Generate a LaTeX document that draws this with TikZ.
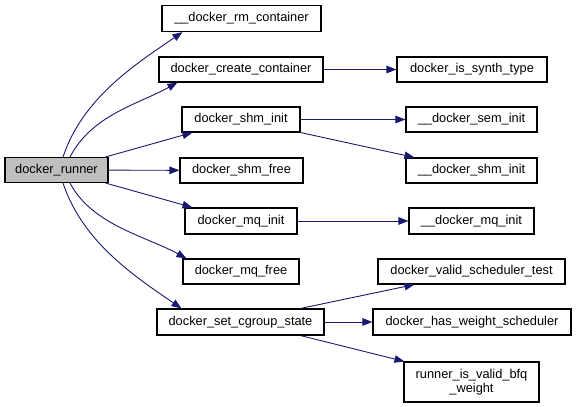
\documentclass[tikz,border=0pt]{standalone}
\usepackage{fontspec}
\setmainfont{Liberation Sans}
\usetikzlibrary{arrows.meta}
\definecolor{edgeblue}{HTML}{191970}
\begin{document}
\begin{tikzpicture}[x=1pt, y=-1pt,
		func/.style={draw=black, line width=1.1pt, fill=white, inner sep=0pt, font=\fontsize{12.8}{14}\selectfont},
		call/.style={->, >={Triangle[length=10pt, width=7.5pt]}, draw=edgeblue, line width=0.9pt}]
		\useasboundingbox (0,0) rectangle (576,407);
		% Nodes
		\node[func, fill=black!25, minimum width=103pt, minimum height=25pt] (runner) at (56.5,170) {docker\_runner};
		\node[func, minimum width=159pt, minimum height=26pt] (rmcontainer) at (241.5,18.5) {\_\_docker\_rm\_container};
		\node[func, minimum width=164pt, minimum height=25pt] (createcontainer) at (241,69.5) {docker\_create\_container};
		\node[func, minimum width=150pt, minimum height=25pt] (synthtype) at (472,69.5) {docker\_is\_synth\_type};
		\node[func, minimum width=118pt, minimum height=25pt] (shminit) at (241,119.5) {docker\_shm\_init};
		\node[func, minimum width=131pt, minimum height=25pt] (seminit) at (471.5,119.5) {\_\_docker\_sem\_init};
		\node[func, minimum width=123pt, minimum height=25pt] (shmfree) at (241.5,170.5) {docker\_shm\_free};
		\node[func, minimum width=131pt, minimum height=25pt] (rawshminit) at (471.5,170.5) {\_\_docker\_shm\_init};
		\node[func, minimum width=112pt, minimum height=26pt] (mqinit) at (241,221) {docker\_mq\_init};
		\node[func, minimum width=125pt, minimum height=26pt] (rawmqinit) at (471.5,221) {\_\_docker\_mq\_init};
		\node[func, minimum width=116pt, minimum height=25pt] (mqfree) at (241,271.5) {docker\_mq\_free};
		\node[func, minimum width=167pt, minimum height=26pt] (cgroup) at (240.5,322) {docker\_set\_cgroup\_state};
		\node[func, minimum width=187pt, minimum height=25pt] (validsched) at (471.5,271.5) {docker\_valid\_scheduler\_test};
		\node[func, minimum width=198pt, minimum height=26pt] (weightsched) at (472,322) {docker\_has\_weight\_scheduler};
		\node[func, minimum width=135pt, minimum height=40pt, align=center] (bfqweight) at (471.5,382) {runner\_is\_valid\_bfq\\\_weight};
		% Arrows
		\draw[call] ([xshift=6.5pt]runner.north) .. controls +(20,-60) and +(-45,31) .. ([xshift=21pt]rmcontainer.south west);
		\draw[call] ([xshift=13.5pt]runner.north) .. controls +(22,-42) and +(-40,22) .. ([xshift=19pt]createcontainer.south west);
		\draw[call] ([xshift=-3pt]runner.north east) -- ([xshift=11pt]shminit.south west);
		\draw[call] (runner) -- (shmfree);
		\draw[call] ([xshift=-3pt]runner.south east) -- ([xshift=8pt]mqinit.north west);
		\draw[call] ([xshift=13.5pt]runner.south) .. controls +(22,42) and +(-40,-22) .. ([xshift=4pt]mqfree.north west);
		\draw[call] ([xshift=6.5pt]runner.south) .. controls +(20,60) and +(-45,-31) .. ([xshift=25pt]cgroup.north west);
		\draw[call] (createcontainer) -- (synthtype);
		\draw[call] (shminit) -- (seminit);
		\draw[call] (shminit.south east) -- ([xshift=9pt]rawshminit.north west);
		\draw[call] (mqinit) -- (rawmqinit);
		\draw[call] ([xshift=-24pt]cgroup.north east) -- ([xshift=37pt]validsched.south west);
		\draw[call] (cgroup) -- (weightsched);
		\draw[call] ([xshift=-24pt]cgroup.south east) -- ([xshift=1pt]bfqweight.north west);
	\end{tikzpicture}
\end{document}
